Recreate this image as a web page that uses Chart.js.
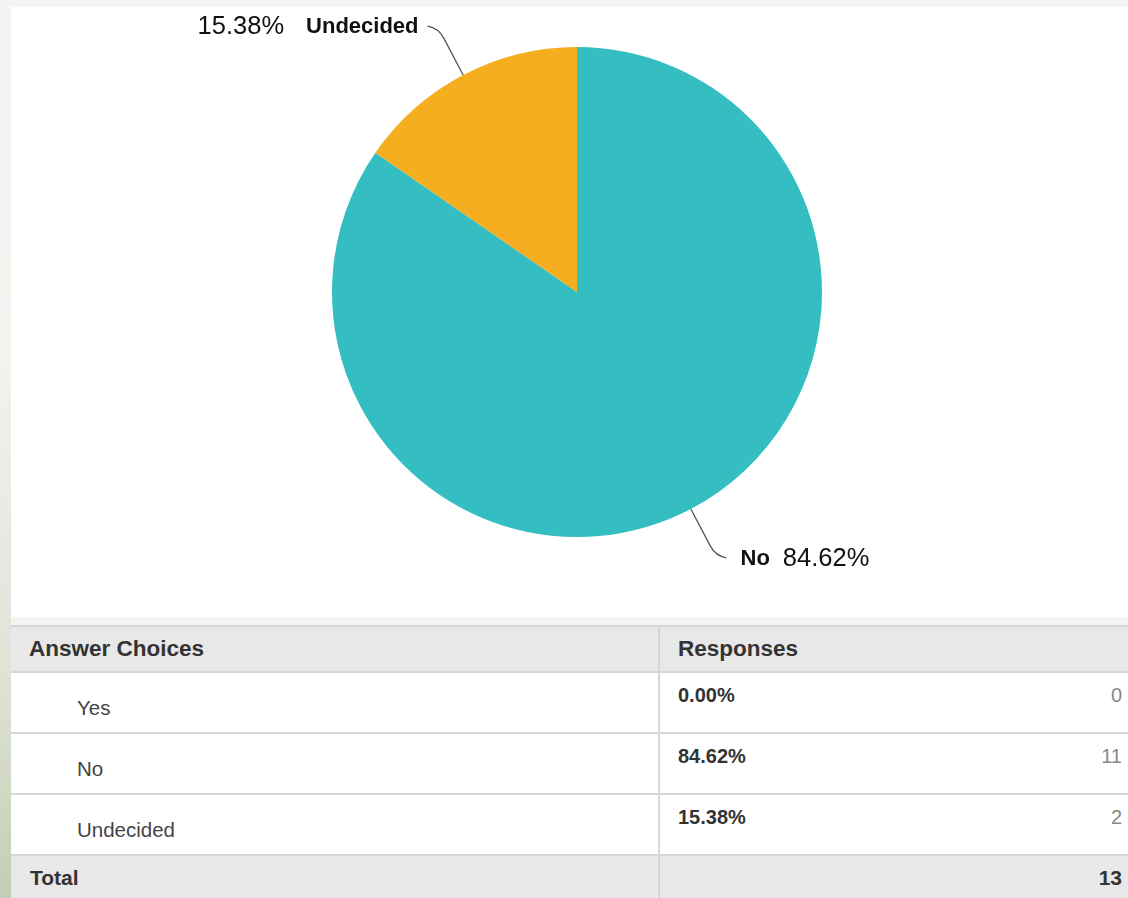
<!DOCTYPE html>
<html><head><meta charset="utf-8">
<script src="https://cdn.jsdelivr.net/npm/chart.js@4/dist/chart.umd.min.js"></script>
<style>
html,body{margin:0;padding:0;}
body{width:1128px;height:898px;overflow:hidden;background:#f4f4f2;position:relative;font-family:"Liberation Sans",Arial,sans-serif;}
#strip{position:absolute;left:0;top:0;width:11px;height:898px;background:linear-gradient(to bottom,#f4f4f2 0%,#f2f2ef 40%,#dfe3d6 75%,#c3cdb2 100%);}
#panel{position:absolute;left:11px;top:7px;width:1117px;height:610px;background:#fff;}
#c{position:absolute;left:0;top:0;}
table{position:absolute;left:11px;top:625px;width:1140px;border-collapse:collapse;table-layout:fixed;}
td{padding:0;border-top:2px solid #d6d6d6;vertical-align:top;}
td .in{display:block;}
.hd td{background:#e8e8e8;height:44px;font-weight:bold;font-size:22.5px;color:#333;vertical-align:middle;}
.hd td:first-child{padding-left:18px;}
.hd td:nth-child(2){padding-left:18px;border-left:2px solid #d6d6d6;}
.row td{background:#fff;height:59px;}
.row td.lab .in{padding-left:66px;font-size:20.5px;color:#444;margin-top:23px;}
.row td.pct{border-left:2px solid #d6d6d6;}
.row td.pct .in{padding-left:18px;margin-top:11px;font-weight:bold;font-size:20px;color:#333;}
.row td.cnt .in{margin-top:11px;font-size:20px;color:#888;text-align:right;width:43px;}
.tot td{background:#e8e8e8;height:44px;font-weight:bold;font-size:21px;color:#333;vertical-align:top;}
.tot td .in{margin-top:10px;}
.tot td:first-child .in{padding-left:19px;}
.tot td.pct{border-left:2px solid #d6d6d6;}
.tot td.cnt .in{text-align:right;width:43px;}
</style></head>
<body>
<div id="strip"></div>
<div id="panel"><canvas id="c" width="1117" height="610"></canvas></div>
<table id="t"></table>
<script>
const categories = ["Yes", "No", "Undecided"];
const counts = [0, 11, 2];
const percents = ["0.00%", "84.62%", "15.38%"];
const totalLabel = "Total";
const colors = ["#7d8fc4", "#35bec1", "#f5ae20"];

// Table
const t = document.getElementById('t');
let html = '<colgroup><col style="width:648px"><col style="width:420px"><col style="width:72px"></colgroup>';
html += '<tr class="hd"><td>Answer Choices</td><td colspan="2">Responses</td></tr>';
categories.forEach((c,i)=>{
  html += '<tr class="row"><td class="lab"><span class="in">'+c+'</span></td><td class="pct"><span class="in">'+percents[i]+'</span></td><td class="cnt"><span class="in">'+counts[i]+'</span></td></tr>';
});
const total = counts.reduce((a,b)=>a+b,0);
html += '<tr class="tot"><td><span class="in">'+totalLabel+'</span></td><td class="pct"></td><td class="cnt"><span class="in">'+total+'</span></td></tr>';
t.innerHTML = html;

const leaderPlugin = {
  id: 'leaders',
  afterDatasetsDraw(chart){
    const ctx = chart.ctx;
    const meta = chart.getDatasetMeta(0);
    meta.data.forEach((arc,i)=>{
      if(!counts[i]) return;
      const p = arc.getProps(['x','y','startAngle','endAngle','outerRadius'], true);
      const mid = (p.startAngle+p.endAngle)/2;
      const dx = Math.cos(mid), dy = Math.sin(mid);
      const p0 = {x:p.x+dx*p.outerRadius, y:p.y+dy*p.outerRadius};
      const p1 = {x:p0.x+dx*42, y:p0.y+dy*42};
      const cp = {x:p1.x+dx*11, y:p1.y+dy*11};
      const side = dx<0 ? -1 : 1;
      const end = {x:cp.x+side*11, y:cp.y+Math.sign(dy)*2};
      ctx.save();
      ctx.strokeStyle = '#555';
      ctx.lineWidth = 1.3;
      ctx.beginPath();
      ctx.moveTo(p0.x,p0.y);
      ctx.lineTo(p1.x,p1.y);
      ctx.quadraticCurveTo(cp.x,cp.y,end.x,end.y);
      ctx.stroke();
      ctx.textBaseline = 'middle';
      ctx.fillStyle = '#111';
      const boldFont = 'bold 22px "Liberation Sans", Arial, sans-serif';
      const regFont = '25.5px "Liberation Sans", Arial, sans-serif';
      const ty = end.y + 1;
      if(side<0){
        ctx.font = boldFont; ctx.textAlign='right';
        let x = end.x - 9;
        ctx.fillText(categories[i], x, ty);
        const w = ctx.measureText(categories[i]).width;
        ctx.font = regFont;
        ctx.fillText(percents[i], x - w - 22, ty);
      } else {
        ctx.font = boldFont; ctx.textAlign='left';
        let x = end.x + 14;
        ctx.fillText(categories[i], x, ty);
        const w = ctx.measureText(categories[i]).width;
        ctx.font = regFont;
        ctx.fillText(percents[i], x + w + 13, ty);
      }
      ctx.restore();
    });
  }
};

new Chart(document.getElementById('c'), {
  type: 'pie',
  data: { labels: categories, datasets: [{ data: counts, backgroundColor: colors, borderWidth: 0 }] },
  options: {
    responsive: false,
    animation: false,
    layout: { padding: { left: 321, right: 306, top: 40, bottom: 80 } },
    plugins: { legend: { display: false }, tooltip: { enabled: false } }
  },
  plugins: [leaderPlugin]
});
</script>
</body></html>
